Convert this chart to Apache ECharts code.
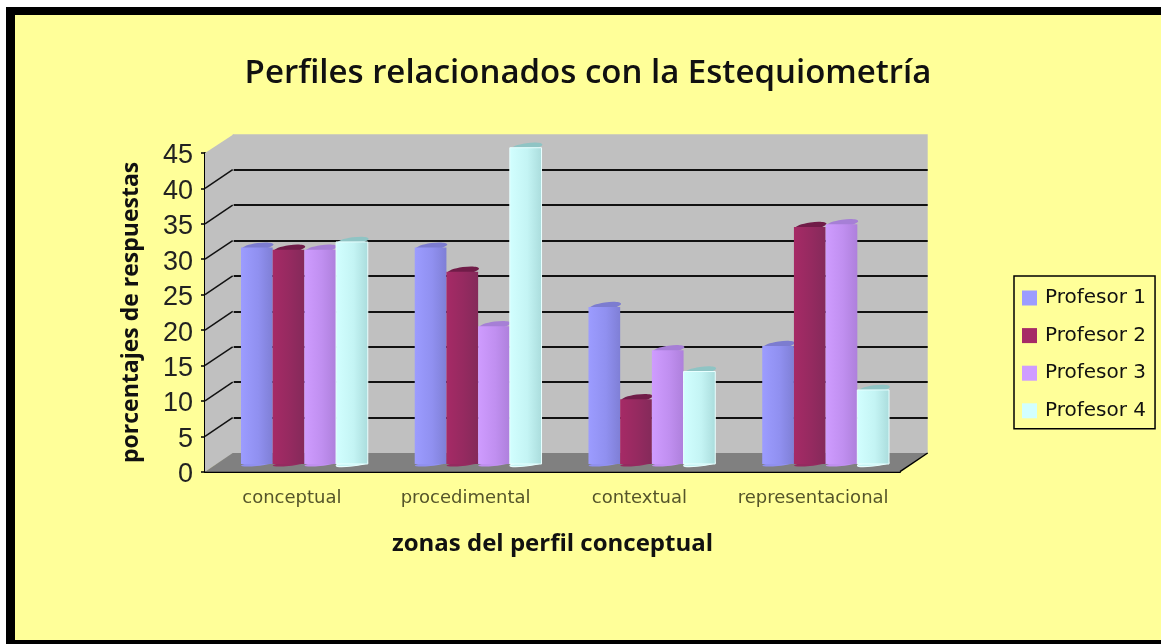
<!DOCTYPE html>
<html>
<head>
<meta charset="utf-8">
<title>Perfiles relacionados con la Estequiometría</title>
<script src="https://cdn.jsdelivr.net/npm/echarts@6/dist/echarts.min.js"></script>
<style>
  html, body { margin: 0; padding: 0; background: #fff; }
  #chart { width: 1161px; height: 644px; }
</style>
</head>
<body>
<div id="chart"></div>
<script>
  const categories = ['conceptual', 'procedimental', 'contextual', 'representacional']
  const profesor1 = [30.7, 30.7, 22.3, 16.8]
  const profesor2 = [30.4, 27.3, 9.3, 33.6]
  const profesor3 = [30.4, 19.6, 16.2, 34.0]
  const profesor4 = [31.5, 44.8, 13.2, 10.6]
  const yTicks = [5, 10, 15, 20, 25, 30, 35, 40, 45]

  const names = ['Profesor 1', 'Profesor 2', 'Profesor 3', 'Profesor 4']
  const values = [profesor1, profesor2, profesor3, profesor4]
  // left, mid, right of the cylinder shading, then the cap
  const shades = [
    ['#9c9cff', '#9090f0', '#7f7fd6', '#7c7cd0'],
    ['#a62a66', '#952a60', '#842a5a', '#701c48'],
    ['#cf9cff', '#c08ff0', '#ae80dc', '#a67fd6'],
    ['#d2ffff', '#c4f4f4', '#aadcdc', '#8fc4c4']
  ]

  // depth of the fake 3d box
  const DX = 27.7
  const DY = 18.7
  const BAR_W = 31.7
  const BAR_SHIFT = 12.5
  const BAR_LIFT = 6.7

  function renderWalls(params, api) {
    const c = params.coordSys
    const left = c.x, right = c.x + c.width, bottom = c.y + c.height
    const kids = [
      { type: 'polygon', shape: { points: [[left, bottom], [left, c.y], [left + DX + 1, c.y - DY], [left + DX + 1, bottom - DY]] }, style: { fill: '#c0c0c0' } },
      { type: 'polygon', shape: { points: [[left, bottom], [right, bottom], [right + DX, bottom - DY], [left + DX, bottom - DY]] }, style: { fill: '#808080' } },
      { type: 'line', shape: { x1: right, y1: bottom, x2: right + DX, y2: bottom - DY }, style: { stroke: '#000', lineWidth: 1.5 } }
    ]
    yTicks.slice(0, -1).forEach(t => {
      const y = api.coord([0, t])[1]
      kids.push({ type: 'line', shape: { x1: left, y1: y, x2: left + DX, y2: y - DY }, style: { stroke: '#111', lineWidth: 1.5 } })
    })
    return { type: 'group', children: kids }
  }

  function barRenderer(idx) {
    const s = shades[idx]
    return function (params, api) {
      const cat = api.value(0)
      const top = api.coord([cat, api.value(1)])
      const base = api.coord([cat, 0])
      const x = base[0] + BAR_SHIFT + (idx - 2) * BAR_W
      const yTop = top[1] - BAR_LIFT
      const yBase = base[1] - BAR_LIFT
      const fill = new echarts.graphic.LinearGradient(0, 0, 1, 0, [
        { offset: 0, color: s[0] },
        { offset: 0.55, color: s[1] },
        { offset: 1, color: s[2] }
      ])
      const edge = idx === 3 ? '#e8ffff' : null
      return {
        type: 'group',
        children: [
          { type: 'ellipse', x: x + BAR_W / 2 + 1, y: yTop - 1, rotation: 0.14, shape: { cx: 0, cy: 0, rx: BAR_W / 2, ry: 3.6 }, style: { fill: s[3] } },
          { type: 'ellipse', x: x + BAR_W / 2, y: yBase - 1, rotation: 0.1, shape: { cx: 0, cy: 0, rx: BAR_W / 2, ry: 2 }, style: { fill: s[1], stroke: edge, lineWidth: 1 } },
          { type: 'rect', shape: { x: x, y: yTop, width: BAR_W, height: yBase - yTop - 1 }, style: { fill: fill, stroke: edge, lineWidth: 1 } }
        ]
      }
    }
  }

  const barSeries = names.map((name, i) => ({
    name: name,
    type: 'custom',
    xAxisIndex: 0,
    yAxisIndex: 0,
    z: 3 + i,
    clip: false,
    itemStyle: { color: shades[i][0] },
    encode: { x: 0, y: 1 },
    renderItem: barRenderer(i),
    data: values[i].map((v, c) => [c, v])
  }))

  const chart = echarts.init(document.getElementById('chart'))
  chart.setOption({
    backgroundColor: '#ffffff',
    animation: false,
    graphic: [
      { type: 'rect', z: -10, shape: { x: 6, y: 7, width: 1155, height: 637 }, style: { fill: '#000' } },
      { type: 'rect', z: -9, shape: { x: 15, y: 15, width: 1146, height: 625 }, style: { fill: '#ffff99' } }
    ],
    title: {
      text: 'Perfiles relacionados con la Estequiometría',
      left: 583,
      top: 52,
      textAlign: 'center',
      textStyle: { fontFamily: 'Open Sans', fontWeight: 600, fontSize: 33, color: '#111' }
    },
    legend: {
      data: names,
      orient: 'vertical',
      left: 1014,
      top: 276,
      padding: [12, 9, 8, 8],
      itemWidth: 15,
      itemHeight: 15,
      itemGap: 17.6,
      icon: 'rect',
      borderColor: '#000',
      borderWidth: 1.5,
      textStyle: { fontFamily: 'DejaVu Sans', fontSize: 20, color: '#111', fontWeight: 500, padding: [0, 0, 0, 3] }
    },
    grid: [
      { left: 205, top: 153, width: 695, height: 318.7 },
      { left: 232.7, top: 134.3, width: 695, height: 318.7, show: true, backgroundColor: '#c0c0c0', borderWidth: 0, z: 0 }
    ],
    xAxis: [
      {
        type: 'category',
        gridIndex: 0,
        data: categories,
        name: 'zonas del perfil conceptual',
        nameLocation: 'middle',
        nameGap: 60,
        nameTextStyle: { fontFamily: 'Open Sans', fontWeight: 700, fontSize: 24, color: '#111' },
        axisLine: { lineStyle: { color: '#000', width: 2 } },
        axisTick: { length: 6, lineStyle: { color: '#000', width: 1.5 } },
        axisLabel: { interval: 0, fontFamily: 'DejaVu Sans', fontSize: 18, color: '#55552a', margin: 18 }
      },
      { type: 'category', gridIndex: 1, data: categories, show: false }
    ],
    yAxis: [
      {
        type: 'value',
        gridIndex: 0,
        min: 0,
        max: 45,
        interval: 5,
        name: 'porcentajes de respuestas',
        nameLocation: 'middle',
        nameGap: 62,
        nameTextStyle: { fontFamily: 'Open Sans', fontWeight: 700, fontSize: 23, color: '#111' },
        splitLine: { show: false },
        axisLine: { show: true, lineStyle: { color: '#000', width: 2 } },
        axisTick: { show: true, length: 4, lineStyle: { color: '#000', width: 1.5 } },
        axisLabel: { fontFamily: 'Liberation Sans', fontSize: 27, color: '#222', margin: 12, verticalAlign: 'top', lineHeight: 6 }
      },
      {
        type: 'value',
        gridIndex: 1,
        min: 0,
        max: 45,
        interval: 5,
        axisLine: { show: false },
        axisTick: { show: false },
        axisLabel: { show: false },
        splitLine: { show: true, showMinLine: false, showMaxLine: false, lineStyle: { color: '#111', width: 2 } }
      }
    ],
    series: [
      {
        name: 'paredes',
        type: 'custom',
        xAxisIndex: 0,
        yAxisIndex: 0,
        z: 1,
        clip: false,
        silent: true,
        renderItem: renderWalls,
        data: [[0, 0]]
      }
    ].concat(barSeries)
  })
</script>
</body>
</html>
